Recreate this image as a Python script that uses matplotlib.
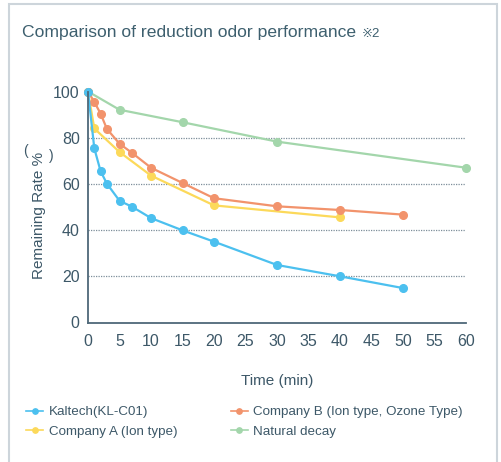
import matplotlib
matplotlib.use("Agg")
import matplotlib.pyplot as plt
from matplotlib.patches import Rectangle

plt.rcParams['font.family'] = ['Liberation Sans', 'DejaVu Sans']

# data
kaltech_t = [0, 1, 2, 3, 5, 7, 10, 15, 20, 30, 40, 50]
kaltech_v = [100, 75.4, 65.5, 60.1, 52.7, 50.1, 45.2, 39.9, 35, 24.9, 20, 14.9]
compb_t = [0, 1, 2, 3, 5, 7, 10, 15, 20, 30, 40, 50]
compb_v = [100, 95.5, 90.4, 83.8, 77.4, 73.4, 67, 60.4, 53.8, 50.3, 48.7, 46.7]
compa_t = [0, 1, 5, 10, 20, 40]
compa_v = [100, 84, 73.8, 63.6, 50.7, 45.5]
natural_t = [0, 5, 15, 30, 60]
natural_v = [100, 92.1, 86.7, 78.3, 67]

x_ticks = list(range(0, 61, 5))
y_ticks = [0, 20, 40, 60, 80, 100]

txt = '#3d5868'
spine = '#4e6878'

fig = plt.figure(figsize=(5.01, 4.62), dpi=100)
ax = fig.add_axes([88/501, 1-322.5/462, (466-88)/501, (322.5-91.5)/462])

# outer frame
fig.add_artist(Rectangle((9/501, -0.02), (497-9)/501, 1.02-4/462, transform=fig.transFigure,
                         fill=False, edgecolor='#cdd5db', lw=1.5))

lw = 1.6
ms = 5.5
ln_nat, = ax.plot(natural_t, natural_v, color='#a3d6ab', lw=lw, marker='o', ms=ms, clip_on=False, label='Natural decay')
ln_a, = ax.plot(compa_t, compa_v, color='#fcd95a', lw=lw, marker='o', ms=ms, clip_on=False, label='Company A (Ion type)')
ln_b, = ax.plot(compb_t, compb_v, color='#f2936c', lw=lw, marker='o', ms=ms, clip_on=False, label='Company B (Ion type, Ozone Type)')
ln_k, = ax.plot(kaltech_t, kaltech_v, color='#4cc0ef', lw=lw, marker='o', ms=ms, clip_on=False, label='Kaltech(KL-C01)')

ax.set_xlim(0, 60)
ax.set_ylim(0, 100)
ax.set_xticks(x_ticks)
ax.set_yticks(y_ticks)
ax.tick_params(length=0, labelsize=11.5, labelcolor=txt)
ax.tick_params(axis='x', pad=8)
ax.tick_params(axis='y', pad=6)
for g in [20, 40, 60, 80]:
    ax.axhline(g, color='#7d8e9a', lw=0.9, ls=(0, (1, 1)), zorder=0)
for s in ['top', 'right']:
    ax.spines[s].set_visible(False)
for s in ['left', 'bottom']:
    ax.spines[s].set_color(spine)
    ax.spines[s].set_linewidth(1.3)

ax.set_xlabel('Time (min)', fontsize=11, color=txt, labelpad=18)
fig.text(39/501, 1-215/462, 'Remaining Rate %', rotation=90, fontsize=11, color=txt,
         ha='center', va='center')
fig.text(25/501, 1-151/462, '(', fontsize=10, color=txt, ha='center', va='center')
fig.text(51/501, 1-156/462, ')', fontsize=10, color=txt, ha='center', va='center')

fig.text(22/501, 1-32/462, 'Comparison of reduction odor performance', fontsize=12.6,
         color='#3d5f6e', ha='left', va='center')
fig.text(362/501, 1-34/462, '※2', fontsize=9.5, color='#3d5f6e', ha='left', va='center')

leg = fig.legend(handles=[ln_k, ln_a, ln_b, ln_nat], ncol=2, loc='upper left',
                 bbox_to_anchor=(14/501, 1-394/462), frameon=False, fontsize=9.6,
                 handlelength=1.3, handletextpad=0.4, columnspacing=4.0,
                 labelspacing=0.55, markerscale=0.7, labelcolor=txt)
for h in leg.legend_handles:
    h.set_linewidth(1.2)

fig.savefig('out.png', dpi=100)
